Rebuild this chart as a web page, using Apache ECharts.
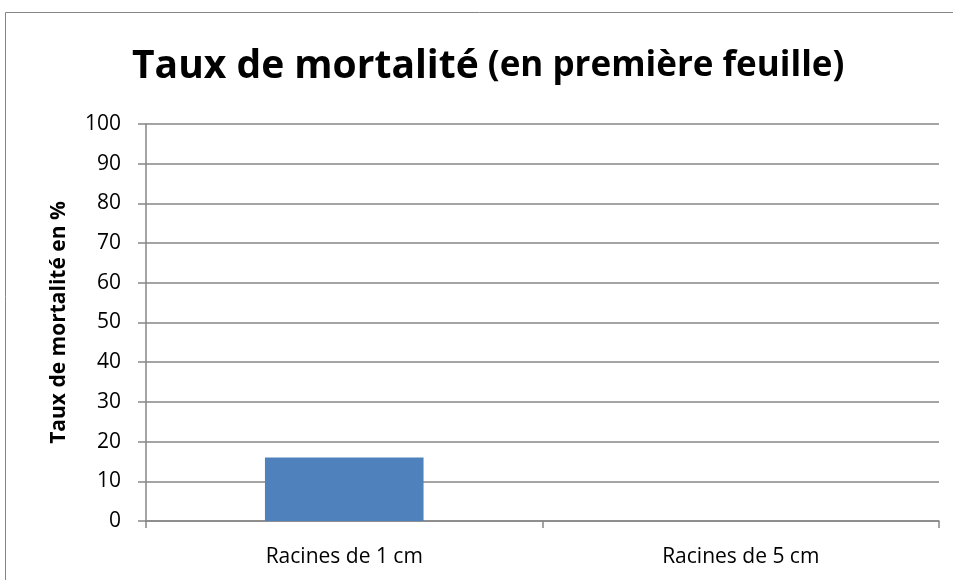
<!DOCTYPE html>
<html>
<head>
<meta charset="utf-8">
<script src="https://cdn.jsdelivr.net/npm/echarts@6/dist/echarts.min.js"></script>
<style>
  html, body { margin: 0; padding: 0; background: #fff; }
  #chart { width: 953px; height: 580px; }
</style>
</head>
<body>
<div id="chart"></div>
<script>
var categories = ['Racines de 1 cm', 'Racines de 5 cm'];
var mortalite = [16, 0];

var chart = echarts.init(document.getElementById('chart'));
var font = '"Open Sans", "Liberation Sans", sans-serif';

chart.setOption({
  animation: false,
  graphic: [
    {
      type: 'rect',
      shape: { x: 5.5, y: 12.5, width: 960, height: 600 },
      style: { fill: 'none', stroke: '#868686', lineWidth: 1 }
    }
  ],
  title: {
    text: '{a|Taux de mortalité}{b| (en première feuille)}',
    left: 127,
    top: 42,
    textStyle: {
      rich: {
        a: { fontFamily: font, fontSize: 39, fontWeight: 'bold', color: '#000' },
        b: { fontFamily: font, fontSize: 35, fontWeight: 'bold', color: '#000' }
      }
    }
  },
  grid: { left: 146, top: 124, right: 14, bottom: 59 },
  xAxis: {
    type: 'category',
    data: categories,
    axisLine: { lineStyle: { color: '#868686', width: 1.5 } },
    axisTick: { show: true, length: 7, lineStyle: { color: '#868686', width: 1.5 } },
    axisLabel: { color: '#000', fontFamily: font, fontSize: 21, margin: 26 }
  },
  yAxis: {
    type: 'value',
    min: 0,
    max: 100,
    interval: 10,
    name: 'Taux de mortalité en %',
    nameLocation: 'middle',
    nameGap: 76,
    nameTextStyle: { fontFamily: font, fontSize: 21, fontWeight: 'bold', color: '#000' },
    axisLine: { show: true, lineStyle: { color: '#868686', width: 1.5 } },
    axisTick: { show: true, length: 8, lineStyle: { color: '#868686', width: 1.5 } },
    axisLabel: { color: '#000', fontFamily: font, fontSize: 21, margin: 25 },
    splitLine: { lineStyle: { color: '#868686', width: 1.5 } }
  },
  series: [
    {
      type: 'bar',
      data: mortalite,
      barWidth: '40%',
      itemStyle: { color: '#4f81bd' }
    }
  ]
});
</script>
</body>
</html>
